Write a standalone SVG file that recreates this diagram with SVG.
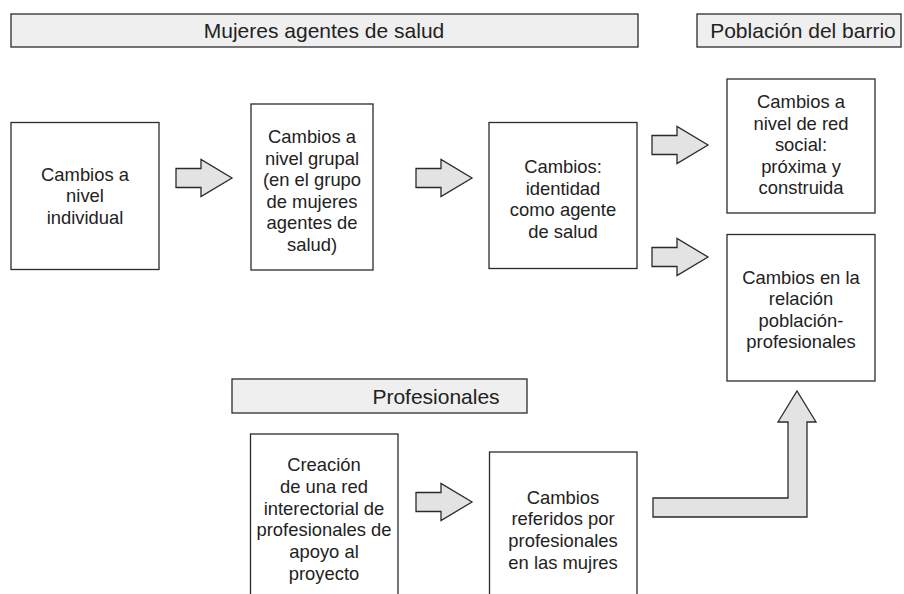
<svg xmlns="http://www.w3.org/2000/svg" width="904" height="594" viewBox="0 0 904 594">
<style>
.hdr{fill:#efefef;stroke:#2b2b2b;stroke-width:1.3}
.box{fill:#ffffff;stroke:#2b2b2b;stroke-width:1.3}
.arr{fill:#e3e3e4;stroke:#2b2b2b;stroke-width:1.3;stroke-linejoin:miter}
.ht{font-family:"Liberation Sans",Arial,sans-serif;font-size:21px;fill:#222;text-anchor:middle}
.bt{font-family:"Liberation Sans",Arial,sans-serif;font-size:18.4px;fill:#222;text-anchor:middle}
</style>
<rect width="904" height="594" fill="#ffffff"/>
<g id="hdr-mujeres"><rect class="hdr" x="11" y="14" width="627" height="33"/><text class="ht" x="324" y="38">Mujeres agentes de salud</text></g>
<g id="hdr-poblacion"><rect class="hdr" x="697" y="14" width="204" height="33"/><text class="ht" x="803" y="38">Población del barrio</text></g>
<g id="hdr-profesionales"><rect class="hdr" x="232" y="379" width="295" height="34"/><text class="ht" x="436" y="403.5">Profesionales</text></g>
<g id="n1"><rect class="box" x="11" y="122.5" width="148" height="147"/><text class="bt"><tspan x="85" y="180.5">Cambios a</tspan><tspan x="85" y="202">nivel</tspan><tspan x="85" y="223.5">individual</tspan></text></g>
<g id="n2"><rect class="box" x="251" y="104" width="122" height="166"/><text class="bt"><tspan x="312" y="143">Cambios a</tspan><tspan x="312" y="164.5">nivel grupal</tspan><tspan x="312" y="186">(en el grupo</tspan><tspan x="312" y="207.5">de mujeres</tspan><tspan x="312" y="229">agentes de</tspan><tspan x="312" y="250.5">salud)</tspan></text></g>
<g id="n3"><rect class="box" x="489" y="122.5" width="148" height="146"/><text class="bt"><tspan x="563" y="173">Cambios:</tspan><tspan x="563" y="194.5">identidad</tspan><tspan x="563" y="216">como agente</tspan><tspan x="563" y="237.5">de salud</tspan></text></g>
<g id="n4"><rect class="box" x="727" y="79" width="148" height="134"/><text class="bt"><tspan x="801" y="108">Cambios a</tspan><tspan x="801" y="129.5">nivel de red</tspan><tspan x="801" y="151">social:</tspan><tspan x="801" y="172.5">próxima y</tspan><tspan x="801" y="194">construida</tspan></text></g>
<g id="n5"><rect class="box" x="727" y="234.5" width="148" height="146.5"/><text class="bt"><tspan x="801" y="283.5">Cambios en la</tspan><tspan x="801" y="305">relación</tspan><tspan x="801" y="326.5">población-</tspan><tspan x="801" y="348">profesionales</tspan></text></g>
<g id="n6"><rect class="box" x="250.5" y="434" width="147.5" height="170"/><text class="bt"><tspan x="324" y="471">Creación</tspan><tspan x="324" y="492.8">de una red</tspan><tspan x="324" y="514.6">interectorial de</tspan><tspan x="324" y="536.4">profesionales de</tspan><tspan x="324" y="558.2">apoyo al</tspan><tspan x="324" y="580">proyecto</tspan></text></g>
<g id="n7"><rect class="box" x="489.5" y="452" width="147.5" height="152"/><text class="bt"><tspan x="563" y="503.5">Cambios</tspan><tspan x="563" y="525.3">referidos por</tspan><tspan x="563" y="547.1">profesionales</tspan><tspan x="563" y="569">en las mujres</tspan></text></g>
<g id="connectors">
<path class="arr" d="M176,168.5 H201 V159.5 L232,178 L201,196.5 V187.5 H176 Z"/>
<path class="arr" d="M416,168.5 H441 V159.5 L472,178 L441,196.5 V187.5 H416 Z"/>
<path class="arr" d="M652,135.5 H677 V126.5 L708,145 L677,163.5 V154.5 H652 Z"/>
<path class="arr" d="M652,247.5 H677 V238.5 L708,257 L677,275.5 V266.5 H652 Z"/>
<path class="arr" d="M416,492.5 H441 V483.5 L472,502 L441,520.5 V511.5 H416 Z"/>
<path class="arr" d="M653,498 H788 V422 H778 L797,391 L816,422 H807 V517 H653 Z"/>
</g>
</svg>
